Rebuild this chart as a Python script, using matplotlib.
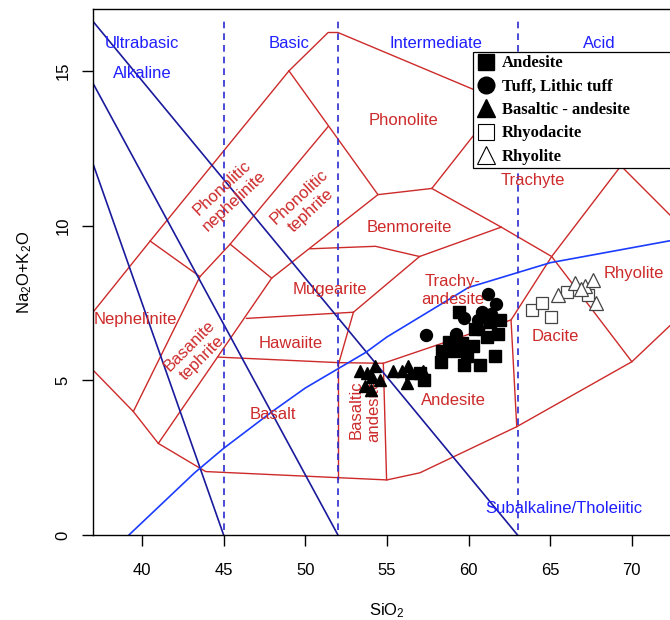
import matplotlib
matplotlib.use('Agg')
import matplotlib.pyplot as plt
from matplotlib.lines import Line2D

plt.rcParams.update({
    'font.family': ['Liberation Sans', 'DejaVu Sans'],
    'font.size': 12,
    'mathtext.default': 'regular',
    'axes.linewidth': 1.0,
})

# ---- sample data (SiO2, Na2O+K2O) ----
andesite_x = [59.4, 61.9, 61.8, 61.1, 58.8, 59.6, 60.3, 58.4, 59.1, 59.9, 60.7, 61.6, 58.3, 59.7,
              57.3, 61.3, 60.4, 57.0]
andesite_y = [7.2, 6.95, 6.5, 6.4, 6.25, 6.2, 6.1, 5.95, 5.95, 5.8, 5.5, 5.8, 5.6, 5.5,
              5.0, 6.9, 6.65, 5.25]
tuff_x = [61.2, 61.7, 57.4, 59.2, 60.8, 60.55, 61.4, 60.6, 59.7]
tuff_y = [7.8, 7.45, 6.45, 6.5, 7.2, 6.95, 7.15, 6.65, 7.0]
bas_and_x = [53.35, 53.75, 54.25, 54.1, 54.55, 53.65, 54.05, 55.4, 55.9, 56.3, 56.5, 57.2, 56.2]
bas_and_y = [5.3, 5.25, 5.45, 5.1, 5.0, 4.8, 4.7, 5.3, 5.3, 5.45, 5.25, 5.3, 4.9]
rhyodacite_x = [63.9, 64.5, 65.05, 66.0, 67.3]
rhyodacite_y = [7.27, 7.5, 7.05, 7.85, 7.75]
rhyolite_x = [65.5, 66.5, 67.1, 67.6, 67.8, 66.9]
rhyolite_y = [7.75, 8.15, 8.05, 8.25, 7.5, 7.95]

# ---- TAS field boundaries (Cox et al. 1979) ----
tas_lines = [
    [(37, 5.33), (39.47, 3.99), (41, 2.96), (43.9, 2.05), (55, 1.78), (57.02, 2.01),
     (62.95, 3.5), (70, 5.6), (74, 7.6)],
    [(37, 7.2), (40.5, 9.5), (49, 15), (51.4, 16.24), (52, 16.24), (60.3, 14.4),
     (69.33, 11.93), (74, 9.46)],
    [(40.5, 9.5), (43.55, 8.35), (39.47, 3.99)],
    [(43.55, 8.35), (45.4, 9.4), (51.4, 13.2)],
    [(45.4, 9.4), (47.94, 8.3)],
    [(41, 2.96), (47.94, 8.3), (54.45, 11.0)],
    [(49, 15), (54.45, 11.0), (57.75, 11.2), (62, 14.05)],
    [(57.75, 11.2), (62, 9.95), (65.09, 9.0), (70, 5.6)],
    [(69.33, 11.93), (65.09, 9.0), (62.6, 6.95), (62.95, 3.5)],
    [(50.3, 9.25), (54.3, 9.33), (57, 9.0), (62, 9.95)],
    [(46.4, 7.0), (52.95, 7.2), (57, 9.0)],
    [(52.95, 7.2), (52.05, 5.55)],
    [(44.65, 5.75), (52.05, 5.57), (54.78, 5.55), (62.6, 6.95)],
    [(52, 5.55), (52, 1.8)],
    [(54.78, 5.55), (54.98, 1.78)],
]
tas_labels = [
    ('Phonolite', 56.0, 13.4, 0), ('Phonolitic\nnephelinite', 45.3, 11.0, 43),
    ('Phonolitic\ntephrite', 50.0, 10.7, 43), ('Benmoreite', 56.4, 9.93, 0),
    ('Mugearite', 51.5, 7.94, 0), ('Hawaiite', 49.1, 6.2, 0),
    ('Nephelinite', 39.57, 6.95, 0), ('Basanite\ntephrite', 43.3, 5.92, 45),
    ('Basalt', 48.0, 3.91, 0), ('Basaltic\nandesite', 53.66, 4.04, 90),
    ('Andesite', 59.06, 4.36, 0), ('Trachy-\nandesite', 59.05, 7.89, 0),
    ('Trachyte', 63.94, 11.45, 0), ('Dacite', 65.3, 6.43, 0),
    ('Rhyolite', 70.1, 8.46, 0),
]

# Irvine & Baragar (1971) alkaline / subalkaline divider
ib_x = [39.2, 40, 43.2, 45, 48, 50, 53.7, 55, 60, 65, 77.4]
ib_y = [0, 0.4, 2, 2.8, 4, 4.75, 5.9, 6.4, 8, 8.8, 10]

# silica classes and auxiliary lines
class_bounds = [45, 52, 63]
class_top = 16.7
aux_lines = [[(37, 12.0), (45, 0)], [(37, 14.6), (52, 0)], [(37, 16.6), (63, 0)]]
class_labels = [('Ultrabasic', 40.0, 15.9), ('Basic', 49.0, 15.9),
                ('Intermediate', 58.0, 15.9), ('Acid', 68.0, 15.9),
                ('Alkaline', 40.0, 14.9), ('Subalkaline/Tholeiitic', 65.85, 0.87)]

RED = '#cd2a2a'
BLUE = '#1f1fff'

fig = plt.figure(figsize=(6.7, 6.2), dpi=100)
ax = fig.add_axes([0.1388, 0.1371, 0.8774, 0.8484])

for seg in tas_lines:
    xs, ys = zip(*seg)
    ax.plot(xs, ys, color=RED, lw=1.0, zorder=2)
for seg in aux_lines:
    xs, ys = zip(*seg)
    ax.plot(xs, ys, color='#1a1a9c', lw=1.2, zorder=2)
ax.plot(ib_x, ib_y, color='#1c3cff', lw=1.2, zorder=2)
for xb in class_bounds:
    ax.plot([xb, xb], [0.15, class_top], color='#2b2bd0', lw=1.2,
            linestyle=(0, (4, 3)), zorder=2)

for txt, x, y, rot in tas_labels:
    ax.text(x, y, txt, color=RED, fontsize=12, ha='center', va='center',
            rotation=rot, rotation_mode='anchor', linespacing=1.25, zorder=3)
for txt, x, y in class_labels:
    ax.text(x, y, txt, color=BLUE, fontsize=12, ha='center', va='center', zorder=3)

ms = 8.6
ax.plot(andesite_x, andesite_y, 's', color='black', ms=ms, ls='none', zorder=4)
ax.plot(tuff_x, tuff_y, 'o', color='black', ms=ms, ls='none', zorder=4)
ax.plot(bas_and_x, bas_and_y, '^', color='black', ms=ms + 0.5, ls='none', zorder=4)
ax.plot(rhyodacite_x, rhyodacite_y, 's', mfc='white', mec='#444444', mew=0.9,
        ms=ms, ls='none', zorder=4)
ax.plot(rhyolite_x, rhyolite_y, '^', mfc='white', mec='#444444', mew=0.9,
        ms=ms + 1, ls='none', zorder=4)

handles = [
    Line2D([], [], marker='s', color='black', ls='none', ms=11),
    Line2D([], [], marker='o', color='black', ls='none', ms=12),
    Line2D([], [], marker='^', color='black', ls='none', ms=12.5),
    Line2D([], [], marker='s', mfc='white', mec='black', mew=0.8, ls='none', ms=11),
    Line2D([], [], marker='^', mfc='white', mec='black', mew=0.8, ls='none', ms=12.5),
]
labels = ['Andesite', 'Tuff, Lithic tuff', 'Basaltic - andesite', 'Rhyodacite', 'Rhyolite']
leg = ax.legend(handles, labels, loc='upper left', bbox_to_anchor=(0.6464, 0.69, 0.40, 0.228),
                mode='expand', borderaxespad=0, fancybox=False, framealpha=1,
                edgecolor='black', handlelength=1.16, handletextpad=0.36,
                borderpad=0.2, labelspacing=0.44,
                prop={'family': 'Liberation Serif', 'weight': 'bold', 'size': 12})
leg.get_frame().set_linewidth(0.9)
leg.set_zorder(10)

ax.set_xlim(37, 73)
ax.set_ylim(0, 17)
ax.set_xticks([40, 45, 50, 55, 60, 65, 70])
ax.set_yticks([0, 5, 10, 15])
ax.tick_params(direction='out', length=8, width=1.0, labelsize=12)
ax.tick_params(axis='x', pad=12)
ax.tick_params(axis='y', pad=8)
for lab in ax.get_yticklabels():
    lab.set_rotation(90)
    lab.set_va('center')
ax.set_xlabel('SiO$_2$', fontsize=12, labelpad=17)
ax.set_ylabel('Na$_2$O+K$_2$O', fontsize=12, labelpad=16)

fig.savefig('out.png', dpi=100)
